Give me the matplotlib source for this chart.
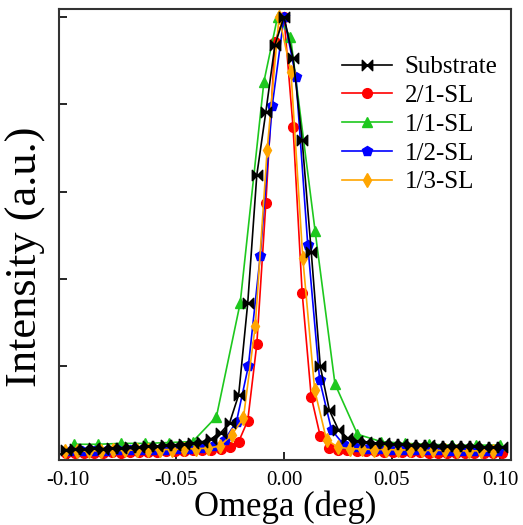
import matplotlib.pyplot as plt
import numpy as np
from matplotlib.path import Path

plt.rcParams['font.family'] = ['Liberation Serif', 'DejaVu Serif']

# Omega grids (deg) for each scan
x_fine = np.arange(-24, 25) * 0.0042     # Substrate and 2/1-SL
x_mid = np.arange(-18, 19) * 0.0055      # 1/2-SL
x_orange = np.arange(-18, 19) * 0.0055 - 0.0023  # 1/3-SL
x_green = [-0.0973, -0.0863, -0.0753, -0.0643, -0.0533, -0.0423, -0.0313, -0.0203,
           -0.0093, -0.003, 0.003, 0.0144, 0.0236, 0.034, 0.045, 0.056, 0.067,
           0.078, 0.089, 0.100]

# normalised intensities
substrate = [0.010, 0.012, 0.011, 0.013, 0.012, 0.014, 0.013, 0.015, 0.016, 0.017,
             0.018, 0.020, 0.021, 0.023, 0.025, 0.028, 0.035,
             0.048, 0.071, 0.135, 0.345, 0.638, 0.783, 0.936,
             1.0,
             0.906, 0.718, 0.463, 0.200, 0.100, 0.055, 0.037,
             0.030, 0.027, 0.025, 0.024, 0.023, 0.022, 0.021, 0.020, 0.020, 0.019,
             0.018, 0.018, 0.017, 0.017, 0.016, 0.016, 0.015]
sl_21 = [0.002, 0.003, 0.002, 0.003, 0.003, 0.004, 0.003, 0.004, 0.004, 0.005,
         0.005, 0.006, 0.006, 0.007, 0.008, 0.009, 0.010, 0.012, 0.016,
         0.028, 0.076, 0.251, 0.574, 0.943,
         1.0,
         0.747, 0.369, 0.131, 0.040, 0.014,
         0.010, 0.008, 0.007, 0.006, 0.006, 0.005, 0.005, 0.004, 0.004, 0.004,
         0.003, 0.003, 0.003, 0.003, 0.002, 0.002, 0.002, 0.002, 0.002]
sl_11 = [0.022, 0.022, 0.024, 0.024, 0.026, 0.028, 0.085, 0.345, 0.852, 1.0,
         0.955, 0.510, 0.160, 0.045, 0.028, 0.024, 0.022, 0.020, 0.020, 0.020]
sl_12 = [0.006, 0.006, 0.007, 0.007, 0.008, 0.008, 0.009, 0.009, 0.010, 0.011,
         0.012, 0.014, 0.018,
         0.032, 0.074, 0.201, 0.453, 0.795,
         1.0,
         0.862, 0.478, 0.169, 0.055, 0.022,
         0.015, 0.012, 0.011, 0.010, 0.009, 0.009, 0.008, 0.008, 0.007, 0.007,
         0.006, 0.006, 0.006]
sl_13 = [0.006, 0.006, 0.007, 0.007, 0.008, 0.008, 0.009, 0.009, 0.010, 0.010,
         0.011, 0.012, 0.013, 0.018,
         0.043, 0.082, 0.293, 0.696,
         1.0,
         0.875, 0.448, 0.146, 0.032, 0.015,
         0.012, 0.011, 0.010, 0.010, 0.009, 0.009, 0.008, 0.008, 0.008, 0.007,
         0.007, 0.007, 0.006]

# bow-tie marker: two triangles pointing at each other
bowtie = Path([(-1, -1), (0, 0), (-1, 1), (-1, -1), (1, -1), (0, 0), (1, 1), (1, -1)],
              [Path.MOVETO, Path.LINETO, Path.LINETO, Path.CLOSEPOLY,
               Path.MOVETO, Path.LINETO, Path.LINETO, Path.CLOSEPOLY])

fig = plt.figure(figsize=(5.23, 5.25), dpi=100)
ax = fig.add_axes([0.1128, 0.1238, 0.8642, 0.859])

lw = 1.2
h_red, = ax.plot(x_fine, sl_21, '-o', color='#ff0000', ms=7, lw=lw, label='2/1-SL')
h_green, = ax.plot(x_green, sl_11, '-^', color='#1ec81e', ms=7.5, lw=lw, label='1/1-SL')
h_blue, = ax.plot(x_mid, sl_12, '-p', color='#0000ff', ms=7.5, lw=lw, label='1/2-SL')
h_orange, = ax.plot(x_orange, sl_13, '-d', color='#ffa500', ms=7.5, lw=lw, label='1/3-SL')
h_black, = ax.plot(x_fine, substrate, '-', marker=bowtie, color='black', ms=7.5,
                   lw=lw, label='Substrate')

ax.set_xlim(-0.1042, 0.1051)
ax.set_ylim(-0.014, 1.018)
ax.set_xticks([-0.10, -0.05, 0.00, 0.05, 0.10])
ax.set_xticklabels(['-0.10', '-0.05', '0.00', '0.05', '0.10'])
ax.set_yticks([0, 0.2, 0.4, 0.6, 0.8, 1.0])
ax.set_yticklabels([])
ax.tick_params(direction='in', length=6, width=1.2, labelsize=15, pad=8)
for s in ax.spines.values():
    s.set_linewidth(1.5)
    s.set_color('#333333')

ax.set_xlabel('Omega (deg)', fontsize=25, labelpad=0)
ax.set_ylabel('Intensity (a.u.)', fontsize=32)
ax.yaxis.set_label_coords(-0.028, 0.45)

ax.legend(handles=[h_black, h_red, h_green, h_blue, h_orange], loc='upper right',
          bbox_to_anchor=(1.009, 0.935), frameon=False, fontsize=18, handlelength=2.0,
          labelspacing=0.25, handletextpad=0.5, borderaxespad=0.3)

fig.savefig('out.png', dpi=100)
